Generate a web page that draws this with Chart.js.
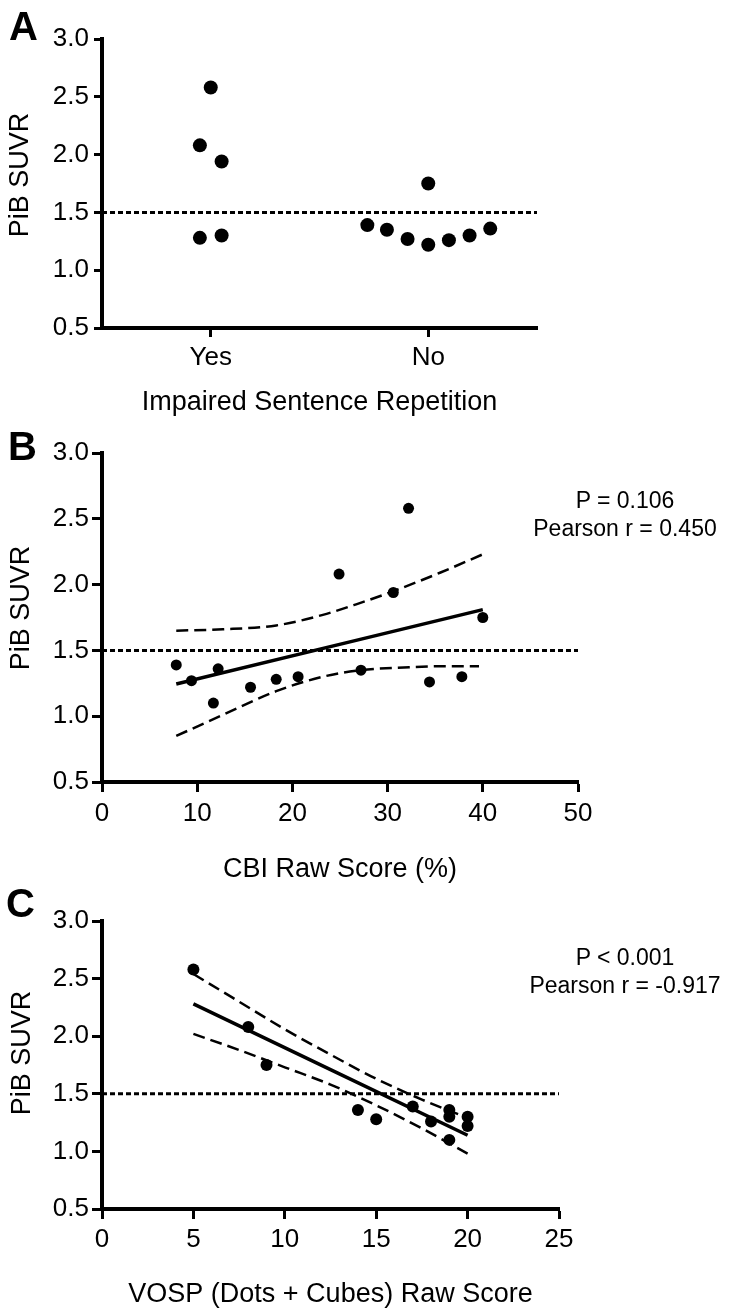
<!DOCTYPE html>
<html>
<head>
<meta charset="utf-8">
<script src="https://cdn.jsdelivr.net/npm/chart.js@4.4.1/dist/chart.umd.min.js"></script>
<style>
html,body{margin:0;padding:0;background:#fff;}
body{width:730px;height:1316px;position:relative;overflow:hidden;font-family:"Liberation Sans",Arial,sans-serif;color:#000;}
.cv{position:absolute;left:0;}
.letter{position:absolute;font-weight:bold;font-size:40px;line-height:40px;z-index:2;}
.ytitle{position:absolute;width:200px;height:32px;line-height:32px;text-align:center;font-size:27px;transform:rotate(-90deg);white-space:nowrap;z-index:2;}
.stat{position:absolute;left:525px;width:200px;text-align:center;font-size:23px;line-height:28px;white-space:nowrap;z-index:2;}
</style>
</head>
<body>
<canvas id="cA" class="cv" style="top:0px" width="730" height="420"></canvas>
<canvas id="cB" class="cv" style="top:420px" width="730" height="470"></canvas>
<canvas id="cC" class="cv" style="top:890px" width="730" height="426"></canvas>

<div class="letter" style="left:9px;top:6px">A</div>
<div class="letter" style="left:8px;top:426px">B</div>
<div class="letter" style="left:6px;top:883px">C</div>

<div class="ytitle" style="left:-81px;top:159px">PiB SUVR</div>
<div class="ytitle" style="left:-80px;top:592px">PiB SUVR</div>
<div class="ytitle" style="left:-79px;top:1037px">PiB SUVR</div>

<div class="stat" style="top:486px">P = 0.106<br>Pearson r = 0.450</div>
<div class="stat" style="top:943px">P &lt; 0.001<br>Pearson r = -0.917</div>

<script>
// ---------- shared ----------
const suvrTicks = [0.5, 1.0, 1.5, 2.0, 2.5, 3.0];
const threshold = 1.5;

// ---------- Panel A ----------
const groupsA = ['Yes', 'No'];
const yesSUVR   = [2.58, 2.08, 1.94, 1.28, 1.30];
const yesJitter = [0.00, -0.05, 0.05, -0.05, 0.05];
const noSUVR    = [1.75, 1.39, 1.35, 1.27, 1.22, 1.26, 1.30, 1.36];
const noJitter  = [0.00, -0.28, -0.19, -0.095, 0.00, 0.095, 0.19, 0.285];

// ---------- Panel B ----------
const cbiTicks  = [0, 10, 20, 30, 40, 50];
const cbiScore  = [7.8, 9.4, 11.7, 12.2, 15.6, 18.3, 20.6, 24.9, 27.2, 30.6, 32.2, 34.4, 37.8, 40.0];
const cbiSUVR   = [1.39, 1.27, 1.10, 1.36, 1.22, 1.28, 1.30, 2.08, 1.35, 1.94, 2.58, 1.26, 1.30, 1.75];
const cbiFitX   = [7.8, 40.0];
const cbiFitY   = [1.245, 1.81];
const cbiUpperX = [7.8, 12.7, 18.3, 23.2, 26.7, 30.6, 35.5, 40.0];
const cbiUpperY = [1.65, 1.66, 1.69, 1.77, 1.85, 1.95, 2.09, 2.23];
const cbiLowerX = [7.8, 12.7, 18.3, 23.2, 27.2, 31.7, 35.5, 39.6];
const cbiLowerY = [0.85, 1.01, 1.19, 1.30, 1.35, 1.37, 1.38, 1.38];

// ---------- Panel C ----------
const vospTicks  = [0, 5, 10, 15, 20, 25];
const vospScore  = [5, 8, 9, 14, 15, 17, 18, 19, 19, 19, 20, 20];
const vospSUVR   = [2.58, 2.08, 1.75, 1.36, 1.28, 1.39, 1.26, 1.36, 1.30, 1.10, 1.30, 1.22];
const vospFitX   = [5, 20];
const vospFitY   = [2.28, 1.14];
const vospUpperX = [5, 7.5, 10, 12.5, 15, 17.5, 20];
const vospUpperY = [2.54, 2.30, 2.06, 1.84, 1.63, 1.45, 1.29];
const vospLowerX = [5, 7.5, 10, 12.5, 15, 17.5, 20];
const vospLowerY = [2.02, 1.88, 1.73, 1.58, 1.40, 1.20, 0.98];

// ---------- helpers ----------
const FAM = '"Liberation Sans", Arial, sans-serif';
const pts = (xs, ys) => xs.map((x, i) => ({x: x, y: ys[i]}));

function yScale(tickLen, pad) {
  return {
    type: 'linear', position: 'left', min: suvrTicks[0], max: suvrTicks[suvrTicks.length - 1],
    afterFit: s => { s.width = 102; },
    afterBuildTicks: s => { s.ticks = suvrTicks.map(v => ({value: v})); },
    ticks: { color: '#000', font: {family: FAM, size: 26}, padding: pad,
             callback: v => Number(v).toFixed(1) },
    grid: { display: true, drawOnChartArea: false, drawTicks: true, tickLength: tickLen,
            tickWidth: 3, tickColor: '#000', color: '#000' },
    border: { display: true, color: '#000', width: 4 },
    title: { display: false }
  };
}
function xScale(min, max, tickVals, labelFn, height, tickLen, pad, title, titlePad) {
  return {
    type: 'linear', position: 'bottom', min: min, max: max,
    afterFit: s => { s.height = height; },
    afterBuildTicks: s => { s.ticks = tickVals.map(v => ({value: v})); },
    ticks: { color: '#000', font: {family: FAM, size: 26}, padding: pad, maxRotation: 0,
             autoSkip: false, callback: labelFn },
    grid: { display: true, drawOnChartArea: false, drawTicks: true, tickLength: tickLen,
            tickWidth: 3, tickColor: '#000', color: '#000' },
    border: { display: true, color: '#000', width: 4 },
    title: { display: true, text: title, color: '#000', font: {family: FAM, size: 27},
             padding: {top: 0, bottom: titlePad} }
  };
}
function scatterDS(data, r) {
  return { type: 'scatter', data: data, pointRadius: r, pointHoverRadius: r,
           backgroundColor: '#000', borderWidth: 0, showLine: false, order: 0 };
}
function lineDS(data, width, dash, order) {
  return { type: 'scatter', data: data, showLine: true, pointRadius: 0, pointHoverRadius: 0,
           borderColor: '#000', borderWidth: width, borderDash: dash, fill: false,
           tension: 0.4, cubicInterpolationMode: 'monotone', order: order,
           borderCapStyle: 'butt' };
}
function baseOpts(padding, scales) {
  return {
    responsive: false, animation: false, devicePixelRatio: 1,
    layout: { padding: padding },
    plugins: { legend: {display: false}, tooltip: {enabled: false} },
    events: [],
    scales: scales
  };
}

// ---------- Chart A ----------
const aPoints = yesSUVR.map((v, i) => ({x: 1 + yesJitter[i], y: v}))
  .concat(noSUVR.map((v, i) => ({x: 2 + noJitter[i], y: v})));
new Chart(document.getElementById('cA'), {
  type: 'scatter',
  data: { datasets: [
    scatterDS(aPoints, 7),
    lineDS([{x: 0.5, y: threshold}, {x: 2.5, y: threshold}], 3, [5, 3], 3)
  ]},
  options: baseOpts({left: 0, top: 39, right: 730 - 537, bottom: 0}, {
    x: xScale(0.5, 2.5, [1, 2], (v) => groupsA[Math.round(v) - 1], 420 - 328, 9, 5,
              'Impaired Sentence Repetition', 1),
    y: yScale(8, 5)
  })
});

// ---------- Chart B ----------
new Chart(document.getElementById('cB'), {
  type: 'scatter',
  data: { datasets: [
    scatterDS(pts(cbiScore, cbiSUVR), 5.5),
    lineDS(pts(cbiFitX, cbiFitY), 3.5, [], 1),
    lineDS(pts(cbiUpperX, cbiUpperY), 2.5, [12, 6], 2),
    lineDS(pts(cbiLowerX, cbiLowerY), 2.5, [12, 6], 2),
    lineDS([{x: cbiTicks[0], y: threshold}, {x: cbiTicks[cbiTicks.length - 1], y: threshold}], 3, [5, 3], 3)
  ]},
  options: baseOpts({left: 0, top: 453 - 420, right: 730 - 578, bottom: 0}, {
    x: xScale(cbiTicks[0], cbiTicks[cbiTicks.length - 1], cbiTicks, (v) => String(v), 470 - 362, 10, 6,
              'CBI Raw Score (%)', 4),
    y: yScale(10, 3)
  })
});

// ---------- Chart C ----------
new Chart(document.getElementById('cC'), {
  type: 'scatter',
  data: { datasets: [
    scatterDS(pts(vospScore, vospSUVR), 6),
    lineDS(pts(vospFitX, vospFitY), 3.5, [], 1),
    lineDS(pts(vospUpperX, vospUpperY), 2.5, [12, 6], 2),
    lineDS(pts(vospLowerX, vospLowerY), 2.5, [12, 6], 2),
    lineDS([{x: vospTicks[0], y: threshold}, {x: vospTicks[vospTicks.length - 1], y: threshold}], 3, [5, 3], 3)
  ]},
  options: baseOpts({left: 0, top: 921 - 890, right: 730 - 559, bottom: 0}, {
    x: xScale(vospTicks[0], vospTicks[vospTicks.length - 1], vospTicks, (v) => String(v), 426 - 319, 10, 5,
              'VOSP (Dots + Cubes) Raw Score', 5),
    y: yScale(10, 3)
  })
});
</script>
</body>
</html>
